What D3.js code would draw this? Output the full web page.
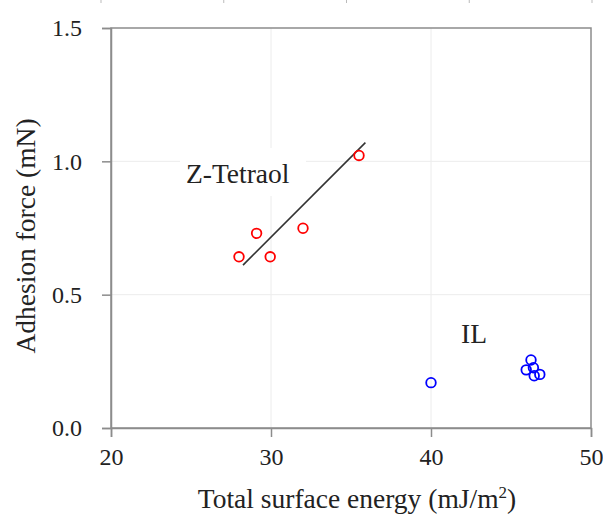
<!DOCTYPE html>
<html>
<head>
<meta charset="utf-8">
<script src="https://cdn.jsdelivr.net/npm/d3@7"></script>
<style>
  html, body { margin: 0; padding: 0; background: #fff; }
  svg { display: block; }
  text { font-family: "Liberation Serif", "Times New Roman", serif; fill: #222; }
</style>
</head>
<body>
<svg id="chart" width="603" height="514"></svg>
<script>
// ---- data ----
const xTicks = [20, 30, 40, 50];
const yTicks = [0.0, 0.5, 1.0, 1.5];
const tetraolX = [28.0, 29.1, 29.95, 32.0, 35.5];
const tetraolY = [0.642, 0.730, 0.642, 0.749, 1.022];
const ilX = [40.0, 46.25, 45.95, 46.4, 46.45, 46.8];
const ilY = [0.170, 0.255, 0.218, 0.226, 0.196, 0.201];
const fitX = [28.25, 35.9];
const fitY = [0.611, 1.070];
const upperPanelTicks = [0, 1, 2, 3, 4];

// ---- layout ----
const svg = d3.select("#chart");
const mL = 111, mR = 591, mT = 28, mB = 428;
const x = d3.scaleLinear().domain([20, 50]).range([mL, mR]);
const y = d3.scaleLinear().domain([0, 1.5]).range([mB, mT]);
const axisColor = "#8c8c8c";

// remnants of the panel above (top edge ticks)
const xu = d3.scaleLinear().domain([0, 4]).range([101, 592]);
svg.append("g").selectAll("line").data(upperPanelTicks).join("line")
  .attr("x1", d => xu(d)).attr("x2", d => xu(d))
  .attr("y1", 0).attr("y2", 3)
  .attr("stroke", "#bbb").attr("stroke-width", 1);

// gridlines
svg.append("g").selectAll("line").data(xTicks.slice(1, -1)).join("line")
  .attr("x1", d => x(d)).attr("x2", d => x(d))
  .attr("y1", mT).attr("y2", mB)
  .attr("stroke", "#ececec").attr("stroke-width", 1);
svg.append("g").selectAll("line").data(yTicks.slice(1, -1)).join("line")
  .attr("x1", mL).attr("x2", mR)
  .attr("y1", d => y(d)).attr("y2", d => y(d))
  .attr("stroke", "#ececec").attr("stroke-width", 1);

// frame
svg.append("rect").attr("x", mL).attr("y", mT)
  .attr("width", mR - mL).attr("height", mB - mT)
  .attr("fill", "none").attr("stroke", axisColor).attr("stroke-width", 1.5);

// axes
const xAxis = svg.append("g").attr("transform", `translate(0,${mB})`)
  .call(d3.axisBottom(x).tickValues(xTicks).tickSize(9).tickPadding(11).tickFormat(d3.format("d")));
const yAxis = svg.append("g").attr("transform", `translate(${mL},0)`)
  .call(d3.axisLeft(y).tickValues(yTicks).tickSize(9).tickPadding(20).tickFormat(d3.format(".1f")));
[xAxis, yAxis].forEach(g => {
  g.select(".domain").attr("stroke", axisColor).attr("stroke-width", 1.5);
  g.selectAll(".tick line").attr("stroke", axisColor).attr("stroke-width", 1.5);
  g.selectAll(".tick text").attr("font-family", "Liberation Serif").attr("font-size", 24).attr("fill", "#222");
});

// annotation labels with white boxes
function label(txt, cx, cy) {
  return svg.append("text").attr("x", cx).attr("y", cy)
    .attr("font-size", 27.5).text(txt);
}
svg.append("rect").attr("x", 180).attr("y", 148).attr("width", 126).attr("height", 48).attr("fill", "#fff");
label("Z-Tetraol", 186, 183);
label("IL", 461, 343);

// fit line
svg.append("line")
  .attr("x1", x(fitX[0])).attr("y1", y(fitY[0]))
  .attr("x2", x(fitX[1])).attr("y2", y(fitY[1]))
  .attr("stroke", "#333").attr("stroke-width", 1.6);

// points
svg.append("g").selectAll("circle").data(tetraolX.map((d, i) => [d, tetraolY[i]])).join("circle")
  .attr("cx", d => x(d[0])).attr("cy", d => y(d[1])).attr("r", 4.8)
  .attr("fill", "none").attr("stroke", "#ff0000").attr("stroke-width", 1.8);
svg.append("g").selectAll("circle").data(ilX.map((d, i) => [d, ilY[i]])).join("circle")
  .attr("cx", d => x(d[0])).attr("cy", d => y(d[1])).attr("r", 4.8)
  .attr("fill", "none").attr("stroke", "#0000ff").attr("stroke-width", 1.8);

// axis titles
const xt = svg.append("text").attr("x", 357).attr("y", 508)
  .attr("text-anchor", "middle").attr("font-size", 27.5);
xt.append("tspan").text("Total surface energy (mJ/m");
xt.append("tspan").attr("dy", -10).attr("font-size", 17).text("2");
xt.append("tspan").attr("dy", 10).text(")");

svg.append("text").attr("transform", `translate(35,236) rotate(-90)`)
  .attr("text-anchor", "middle").attr("font-size", 27.5).text("Adhesion force (mN)");
</script>
</body>
</html>
